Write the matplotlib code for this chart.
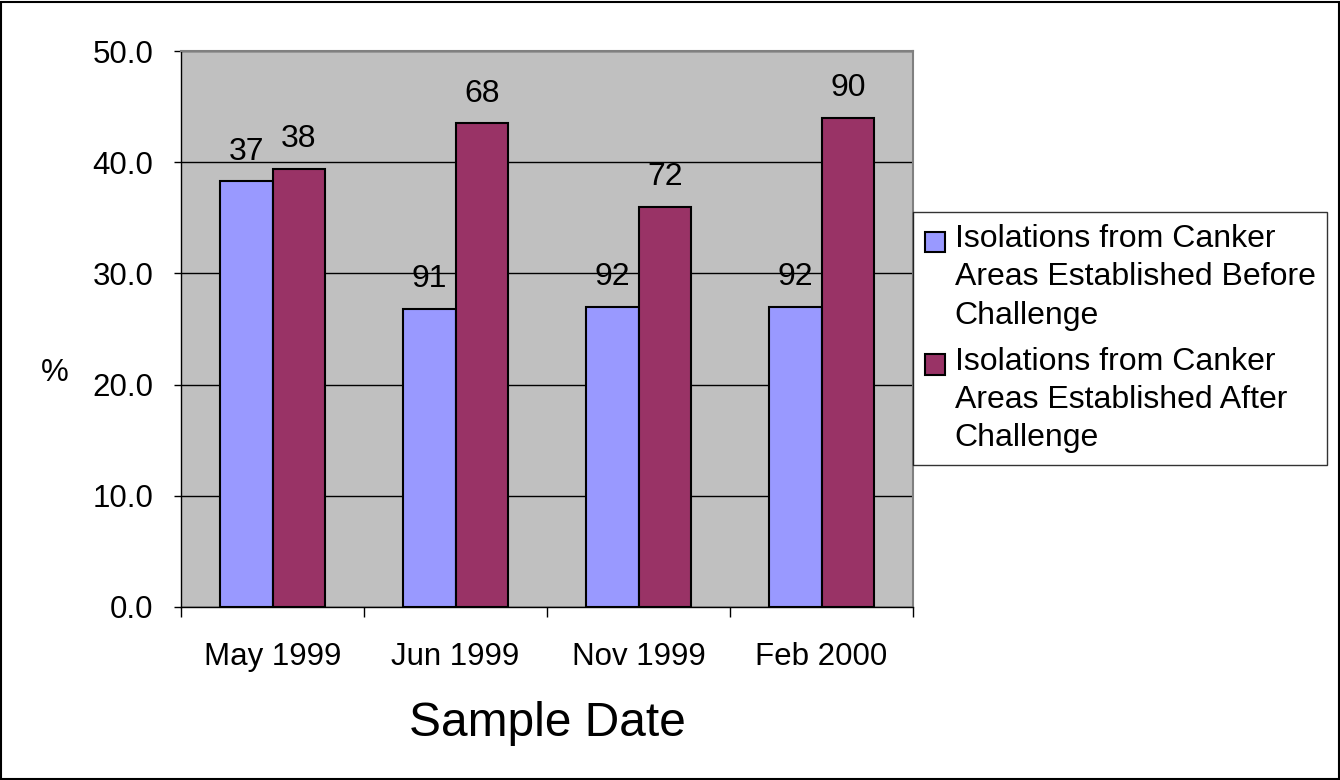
import matplotlib.pyplot as plt
import numpy as np
from matplotlib.patches import Rectangle
from matplotlib.legend_handler import HandlerPatch

plt.rcParams['font.family'] = ['Liberation Sans', 'DejaVu Sans']

dates = ['May 1999', 'Jun 1999', 'Nov 1999', 'Feb 2000']
before = [38.3, 26.8, 27.0, 27.0]
after = [39.4, 43.5, 36.0, 44.0]
before_n = ['37', '91', '92', '92']
after_n = ['38', '68', '72', '90']
series_names = ['Isolations from Canker\nAreas Established Before\nChallenge',
                'Isolations from Canker\nAreas Established After\nChallenge']


def top_square(legend, orig_handle, xdescent, ydescent, width, height, fontsize):
    # small square aligned with the first text line
    s = 0.63 * fontsize
    return Rectangle((-xdescent, -ydescent + height - s + 0.24 * fontsize), s, s)


fig = plt.figure(figsize=(13.4, 7.8), dpi=100)
ax = fig.add_axes([0.1351, 0.2218, 0.5463, 0.7128])
ax.set_facecolor('#C0C0C0')

x = np.arange(len(dates))
w = 0.287
b1 = ax.bar(x - w / 2, before, w, color='#9999FF', edgecolor='black', linewidth=1.5,
            label=series_names[0], zorder=3)
b2 = ax.bar(x + w / 2, after, w, color='#993366', edgecolor='black', linewidth=1.5,
            label=series_names[1], zorder=3)
ax.bar_label(b1, labels=before_n, padding=10.5, fontsize=23)
ax.bar_label(b2, labels=after_n, padding=10.5, fontsize=23)

ax.set_ylim(0, 50)
ax.set_yticks(np.arange(0, 51, 10))
ax.set_yticklabels(['%.1f' % v for v in np.arange(0, 51, 10)], fontsize=22.5)
ax.yaxis.grid(True, color='black', linewidth=1)
ax.set_axisbelow(True)
ax.tick_params(axis='y', length=5, width=1, pad=15)

ax.set_xlim(-0.5, 3.5)
ax.set_xticks(np.arange(-0.5, 4, 1))
ax.set_xticklabels([])
ax.set_xticks(x, minor=True)
ax.set_xticklabels(dates, minor=True, fontsize=22.5)
ax.tick_params(axis='x', which='major', length=7, width=1)
ax.tick_params(axis='x', which='minor', length=0, pad=25)

for s in ['top', 'right']:
    ax.spines[s].set_color('#808080')
    ax.spines[s].set_linewidth(1.5)
for s in ['left', 'bottom']:
    ax.spines[s].set_color('black')
    ax.spines[s].set_linewidth(1)

ax.set_ylabel('%', fontsize=22.5, rotation=0, ha='center', va='center')
ax.yaxis.set_label_coords(-0.172, 0.42)
ax.set_xlabel('Sample Date', fontsize=34.5, va='center')
ax.xaxis.set_label_coords(0.5, -0.21)

leg = ax.legend(handles=[b1.patches[0], b2.patches[0]], labels=series_names,
                loc='upper left', bbox_to_anchor=(0.6813, 0.728), bbox_transform=fig.transFigure,
                fontsize=23, frameon=True, fancybox=False, handlelength=0.63, handleheight=3.5,
                handletextpad=0.31, borderpad=0.37, labelspacing=0.5, borderaxespad=0,
                handler_map={Rectangle: HandlerPatch(patch_func=top_square)})
for t in leg.get_texts():
    t.set_linespacing(1.36)
leg.get_frame().set_edgecolor('black')
leg.get_frame().set_linewidth(1)

fig.patches.append(Rectangle((0.001, 0.001), 0.998, 0.997, transform=fig.transFigure,
                             fill=False, edgecolor='black', linewidth=1.5))

fig.savefig('out.png', dpi=100)
